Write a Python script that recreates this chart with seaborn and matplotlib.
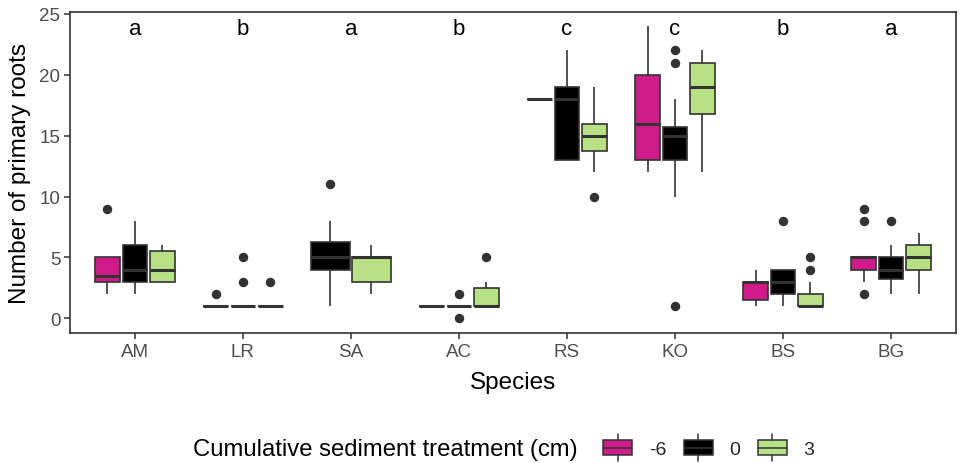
import numpy as np
import pandas as pd
import matplotlib
matplotlib.use("Agg")
import matplotlib.pyplot as plt
import seaborn as sns
from matplotlib.legend_handler import HandlerBase
from matplotlib.patches import Rectangle, Patch
from matplotlib.lines import Line2D

# ---------------- data ----------------
species = ["AM", "LR", "SA", "AC", "RS", "KO", "BS", "BG"]
treatments = ["-6", "0", "3"]
letters = ["a", "b", "a", "b", "c", "c", "b", "a"]
colors = ["#D01C8B", "#000000", "#B8E186"]

am_m6 = [2, 3, 3, 3, 3.5, 4, 5, 5, 9]
am_0 = [2, 3, 3, 4, 4, 5, 6, 7, 8]
am_3 = [3, 3, 3, 4, 4, 5, 5.5, 6, 6]
lr_m6 = [1, 1, 1, 1, 1, 1, 1, 1, 2]
lr_0 = [1, 1, 1, 1, 1, 1, 1, 3, 5]
lr_3 = [1, 1, 1, 1, 1, 1, 1, 1, 3]
sa_0 = [1, 3, 4, 5, 5, 6, 6.25, 8, 11]
sa_3 = [2, 3, 3, 4, 5, 5, 5, 6, 6]
ac_m6 = [1, 1, 1, 1, 1, 1, 1, 1, 1]
ac_0 = [0, 1, 1, 1, 1, 1, 1, 1, 2]
ac_3 = [1, 1, 1, 1, 1, 2, 2.5, 3, 5]
rs_m6 = [18, 18, 18]
rs_0 = [13, 13, 13, 15, 18, 18, 19, 20, 22]
rs_3 = [10, 12, 13.75, 14, 15, 15, 16, 17, 19]
ko_m6 = [12, 13, 13, 15, 16, 18, 20, 22, 24]
ko_0 = [1, 10, 12, 13, 14, 15, 15, 15, 15.5, 15.75, 18, 21, 22]
ko_3 = [12, 15, 16.75, 18, 19, 20, 21, 22, 22]
bs_m6 = [1, 1, 1.5, 2, 3, 3, 3, 4, 4]
bs_0 = [1, 2, 2, 3, 3, 3, 4, 4, 8]
bs_3 = [1, 1, 1, 1, 1, 1, 1, 2, 2, 2, 3, 4, 5]
bg_m6 = [2, 3, 4, 4, 4, 5, 5, 5, 5, 5, 5, 8, 9]
bg_0 = [2, 3, 3.25, 4, 4, 5, 5, 6, 8]
bg_3 = [2, 3, 4, 5, 5, 5, 6, 7, 7]

groups = {
    ("AM", "-6"): am_m6, ("AM", "0"): am_0, ("AM", "3"): am_3,
    ("LR", "-6"): lr_m6, ("LR", "0"): lr_0, ("LR", "3"): lr_3,
    ("SA", "0"): sa_0, ("SA", "3"): sa_3,
    ("AC", "-6"): ac_m6, ("AC", "0"): ac_0, ("AC", "3"): ac_3,
    ("RS", "-6"): rs_m6, ("RS", "0"): rs_0, ("RS", "3"): rs_3,
    ("KO", "-6"): ko_m6, ("KO", "0"): ko_0, ("KO", "3"): ko_3,
    ("BS", "-6"): bs_m6, ("BS", "0"): bs_0, ("BS", "3"): bs_3,
    ("BG", "-6"): bg_m6, ("BG", "0"): bg_0, ("BG", "3"): bg_3,
}
rows = [(sp, tr, v) for (sp, tr), vals in groups.items() for v in vals]
df = pd.DataFrame(rows, columns=["Species", "Treatment", "Roots"])

# ---------------- style ----------------
sns.set_theme(style="white")
plt.rcParams["font.family"] = ["Liberation Sans", "DejaVu Sans"]

edge = "#333333"
W, H = 964, 464
fig = plt.figure(figsize=(W / 100, H / 100), dpi=100)
ax = fig.add_axes([70 / W, 1 - 334 / H, 886 / W, (334 - 12.5) / H])

common = dict(
    x="Species", y="Roots", hue="Treatment", order=species,
    linecolor=edge, linewidth=1.2, showcaps=False, saturation=1,
    flierprops=dict(marker="o", markersize=5.8, markerfacecolor=edge,
                    markeredgecolor=edge),
    medianprops=dict(linewidth=2.2, color=edge),
    legend=False, ax=ax,
)
pal = dict(zip(treatments, colors))
sns.boxplot(data=df[df.Species != "SA"], hue_order=treatments, palette=pal,
            width=0.76, gap=0.1, **common)
sns.boxplot(data=df[df.Species == "SA"], hue_order=["0", "3"],
            palette={"0": colors[1], "3": colors[2]},
            width=0.76, gap=0.06, **common)

for i, lab in enumerate(letters):
    ax.text(i, 23.35, lab, ha="center", va="baseline", fontsize=16, color="black")

ax.set_xlim(-0.6, 7.6)
ax.set_ylim(-1.2, 25.2)
ax.set_yticks([0, 5, 10, 15, 20, 25])
for s in ax.spines.values():
    s.set_visible(True)
    s.set_color(edge)
    s.set_linewidth(1.2)
ax.tick_params(axis="both", which="major", direction="out", length=4, width=1.1,
               color=edge, labelsize=13.5, labelcolor="#4D4D4D", pad=3,
               bottom=True, left=True)
ax.set_xlabel("Species", fontsize=17.5, color="black", labelpad=8)
ax.set_ylabel("Number of primary roots", fontsize=17.5, color="black", labelpad=6)
ax.grid(False)


# ---------------- legend ----------------
class BoxHandler(HandlerBase):
    def create_artists(self, legend, orig_handle, xdescent, ydescent, width,
                       height, fontsize, trans):
        x0, y0 = -xdescent, -ydescent
        fc = orig_handle.get_facecolor()
        r = Rectangle((x0, y0), width, height, facecolor=fc, edgecolor=edge,
                      linewidth=1.1, transform=trans)
        cx = x0 + width / 2
        mid = Line2D([x0, x0 + width], [y0 + height / 2] * 2, color=edge,
                     linewidth=1.1, transform=trans)
        wt = Line2D([cx, cx], [y0 + height, y0 + height * 1.35], color=edge,
                    linewidth=1.1, transform=trans)
        wb = Line2D([cx, cx], [y0, y0 - height * 0.35], color=edge,
                    linewidth=1.1, transform=trans)
        return [r, mid, wt, wb]


handles = [Patch(facecolor=c) for c in colors]
fig.text(193 / W, 1 - 450 / H, "Cumulative sediment treatment (cm)",
         fontsize=17.2, ha="left", va="center", color="black")
fig.legend(handles, treatments, handler_map={Patch: BoxHandler()},
           loc="center left", bbox_to_anchor=(603 / W, 1 - 450 / H),
           ncol=3, frameon=False, fontsize=14, handlelength=1.5,
           handleheight=0.85, handletextpad=0.85, columnspacing=0.9,
           borderpad=0, borderaxespad=0)

fig.savefig("out.png", dpi=100)
